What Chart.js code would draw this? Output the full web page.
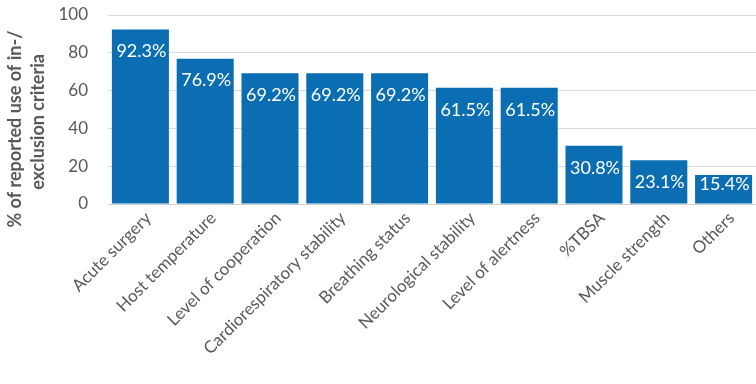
<!DOCTYPE html>
<html>
<head>
<meta charset="utf-8">
<script src="https://cdn.jsdelivr.net/npm/chart.js@4"></script>
<style>
  html, body { margin: 0; padding: 0; background: #fff; }
  #wrap { width: 756px; height: 384px; }
</style>
</head>
<body>
<div id="wrap"><canvas id="criteriaChart"></canvas></div>
<script>
// Criterios de inclusao/exclusao e percentuais reportados
const categorias = [
  "Acute surgery", "Host temperature", "Level of cooperation",
  "Cardiorespiratory stability", "Breathing status", "Neurological stability",
  "Level of alertness", "%TBSA", "Muscle strength", "Others"
];
const percentuais = [92.3, 76.9, 69.2, 69.2, 69.2, 61.5, 61.5, 30.8, 23.1, 15.4];
const ticksY = [0, 20, 40, 60, 80, 100];
const tituloY = ["% of reported use of in-/", "exclusion criteria"];

const FONTE = "Lato, 'Open Sans', sans-serif";
const CINZA = '#595959';

// rotulos brancos dentro das barras, perto do topo
const rotulosBarras = {
  id: 'rotulosBarras',
  afterDatasetsDraw(chart) {
    const ctx = chart.ctx;
    const meta = chart.getDatasetMeta(0);
    ctx.save();
    ctx.font = "18px " + FONTE;
    ctx.fillStyle = '#ffffff';
    ctx.textAlign = 'center';
    ctx.textBaseline = 'middle';
    meta.data.forEach((bar, i) => {
      const y = Math.min(bar.y + 22, bar.base - 19);
      ctx.fillText(percentuais[i].toFixed(1) + '%', bar.x + 1, y);
    });
    ctx.restore();
  }
};

// titulo do eixo Y em duas linhas, girado
const tituloEixoY = {
  id: 'tituloEixoY',
  afterDraw(chart) {
    const ctx = chart.ctx;
    ctx.save();
    ctx.font = "bold 18px " + FONTE;
    ctx.fillStyle = CINZA;
    ctx.textAlign = 'center';
    ctx.textBaseline = 'middle';
    ctx.rotate(-Math.PI / 2);
    ctx.fillText(tituloY[0], -129, 15);
    ctx.fillText(tituloY[1], -122, 38);
    ctx.restore();
  }
};

new Chart(document.getElementById('criteriaChart'), {
  type: 'bar',
  data: {
    labels: categorias,
    datasets: [{
      data: percentuais,
      backgroundColor: '#0B6EB3',
      borderWidth: 0,
      categoryPercentage: 1,
      barPercentage: 0.88
    }]
  },
  options: {
    responsive: true,
    maintainAspectRatio: false,
    animation: false,
    layout: { padding: { top: 15, right: 0, left: 0, bottom: 0 } },
    plugins: { legend: { display: false }, tooltip: { enabled: false } },
    scales: {
      x: {
        grid: { display: false, drawTicks: false },
        border: { display: true, color: '#D0D0D0', width: 1 },
        afterFit(scale) { scale.height = 180; scale.paddingLeft = 0; scale.paddingRight = 0; },
        ticks: {
          color: CINZA,
          font: { family: FONTE, size: 17 },
          minRotation: 45,
          maxRotation: 45,
          padding: 4,
          labelOffset: 8,
          autoSkip: false
        }
      },
      y: {
        min: 0,
        max: 100,
        afterBuildTicks(scale) { scale.ticks = ticksY.map(v => ({ value: v })); },
        afterFit(scale) { scale.width = 108; scale.paddingTop = 0; scale.paddingBottom = 0; },
        grid: { color: '#D9D9D9', drawTicks: false },
        border: { display: false },
        ticks: {
          color: CINZA,
          font: { family: FONTE, size: 17 },
          padding: 20
        }
      }
    }
  },
  plugins: [rotulosBarras, tituloEixoY]
});
</script>
</body>
</html>
